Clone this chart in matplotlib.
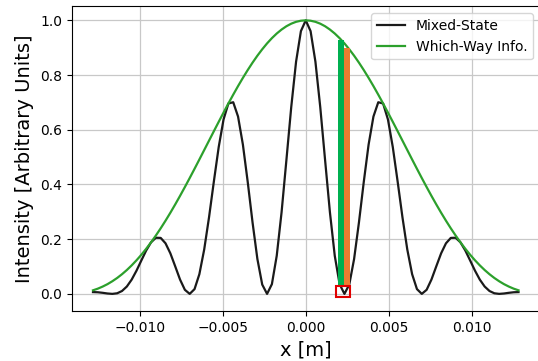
import numpy as np
import matplotlib
matplotlib.use("Agg")
import matplotlib.pyplot as plt
from matplotlib.patches import Rectangle

# Sample positions for the right half of the screen (mirrored for the left half)
x_half = np.linspace(0.0, 0.012815, 45)

# "Mixed-State" intensity, right half (symmetric about x=0)
mixed_half = [1.0000, 0.9606, 0.8489, 0.6829, 0.4892, 0.2983, 0.1394, 0.0356, 0.0000,
              0.0340, 0.1275, 0.2609, 0.4092, 0.5459, 0.6483, 0.7006, 0.6960, 0.6376,
              0.5369, 0.4112, 0.2802, 0.1623, 0.0720, 0.0174, 0.0000, 0.0149, 0.0525,
              0.1009, 0.1483, 0.1849, 0.2046, 0.2052, 0.1883, 0.1586, 0.1221, 0.0849,
              0.0521, 0.0269, 0.0105, 0.0022, 0.0000, 0.0014, 0.0039, 0.0059, 0.0065]

# "Which-Way Info." intensity (envelope), right half
which_half = [1.0000, 0.9986, 0.9946, 0.9878, 0.9784, 0.9663, 0.9518, 0.9349, 0.9157,
              0.8942, 0.8708, 0.8454, 0.8183, 0.7896, 0.7596, 0.7283, 0.6960, 0.6628,
              0.6290, 0.5948, 0.5603, 0.5258, 0.4913, 0.4572, 0.4235, 0.3905, 0.3582,
              0.3269, 0.2966, 0.2675, 0.2397, 0.2133, 0.1883, 0.1649, 0.1430, 0.1228,
              0.1042, 0.0872, 0.0719, 0.0582, 0.0462, 0.0356, 0.0267, 0.0191, 0.0130]

# Highlight bars near the first minimum
bar_x = [0.00211, 0.00247]
bar_bottom = [0.03, 0.03]
bar_top = [0.927, 0.899]
bar_colors = ["#00b050", "#ed7d31"]

# Small red box marking the minimum
box_x = [0.00182, 0.00269]
box_y = [-0.012, 0.028]

x = np.concatenate([-x_half[::-1], x_half[1:]])
mixed = np.concatenate([np.array(mixed_half)[::-1], np.array(mixed_half)[1:]])
which = np.concatenate([np.array(which_half)[::-1], np.array(which_half)[1:]])

fig = plt.figure(figsize=(5.38, 3.61), dpi=100)
ax = fig.add_axes([0.1333, 0.1385, 0.870, 0.8435])

ax.plot(x, mixed, color="#1a1a1a", lw=1.6, label="Mixed-State")
ax.plot(x, which, color="#2ca02c", lw=1.6, label="Which-Way Info.")

for bx, bb, bt, bc in zip(bar_x, bar_bottom, bar_top, bar_colors):
    ax.bar(bx, bt - bb, bottom=bb, width=0.00036, color=bc, zorder=3, linewidth=0)

ax.add_patch(Rectangle((box_x[0], box_y[0]), box_x[1] - box_x[0], box_y[1] - box_y[0],
                       fill=False, edgecolor="#e00000", lw=1.5, zorder=4))

ax.grid(True, color="#c8c8c8", lw=0.9)
ax.set_axisbelow(True)
ax.set_xticks([-0.010, -0.005, 0.0, 0.005, 0.010])
ax.set_xlabel("x [m]", fontsize=14)
ax.set_ylabel("Intensity [Arbitrary Units]", fontsize=14)
ax.tick_params(labelsize=10)
ax.legend(loc="upper right", fontsize=10)

fig.savefig("out.png", dpi=100)
